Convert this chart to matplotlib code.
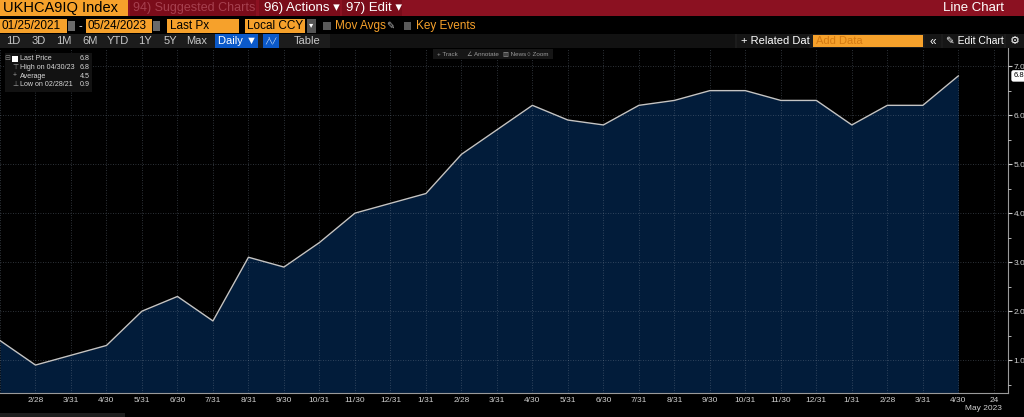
import numpy as np
import matplotlib
matplotlib.use("Agg")
import matplotlib.pyplot as plt
from matplotlib.patches import Rectangle

# month-end observations, UKHCA9IQ Index
dates = ["2021-01-31", "2021-02-28", "2021-03-31", "2021-04-30", "2021-05-31", "2021-06-30",
         "2021-07-31", "2021-08-31", "2021-09-30", "2021-10-31", "2021-11-30", "2021-12-31",
         "2022-01-31", "2022-02-28", "2022-03-31", "2022-04-30", "2022-05-31", "2022-06-30",
         "2022-07-31", "2022-08-31", "2022-09-30", "2022-10-31", "2022-11-30", "2022-12-31",
         "2023-01-31", "2023-02-28", "2023-03-31", "2023-04-30"]
values = [1.4, 0.9, 1.1, 1.3, 2.0, 2.3, 1.8, 3.1, 2.9, 3.4, 4.0, 4.2,
          4.4, 5.2, 5.7, 6.2, 5.9, 5.8, 6.2, 6.3, 6.5, 6.5, 6.3, 6.3,
          5.8, 6.2, 6.2, 6.8]
yticks = [1.0, 2.0, 3.0, 4.0, 5.0, 6.0, 7.0]
legend_rows = [("Last Price", "6.8"), ("High on 04/30/23", "6.8"),
               ("Average", "4.5"), ("Low on 02/28/21", "0.9")]
period_buttons = ["1D", "3D", "1M", "6M", "YTD", "1Y", "5Y", "Max"]

W, H = 1024, 417
RED = "#8b1121"
ORANGE = "#f6a12b"
NAVY = "#021c3a"
FONT = ["Liberation Sans", "DejaVu Sans"]
plt.rcParams["font.family"] = FONT

fig = plt.figure(figsize=(W / 100, H / 100), dpi=100, facecolor="black")


def box(x0, y0, x1, y1, color, z=1):
    fig.add_artist(Rectangle((x0 / W, 1 - y1 / H), (x1 - x0) / W, (y1 - y0) / H,
                             transform=fig.transFigure, facecolor=color,
                             edgecolor="none", zorder=z))


def txt(x, y, s, size=7, color="white", ha="left", z=5, **kw):
    fig.text(x / W, 1 - y / H, s, fontsize=size, color=color, ha=ha, va="center",
             zorder=z, family=FONT, **kw)


# ---- main chart ----
ax = fig.add_axes([0, 24 / H, 1008 / W, (393 - 48) / H])
ax.set_facecolor("black")
x = np.arange(len(values))
ax.fill_between(x, values, 0, color=NAVY, zorder=1, linewidth=0)
ax.plot(x, values, color="#c4c4c4", lw=1.0, zorder=4)

ax.set_xlim(0, len(values) + 0.4)
ax.set_ylim(0.33, 7.37)

xt = list(x[1:]) + [len(values)]
xl = [f"{int(d[5:7])}/{int(d[8:10])}" for d in dates[1:]] + ["24"]
ax.set_xticks(xt)
ax.set_xticklabels(xl)
ax.set_xticks(list(x), minor=True)
ax.set_yticks(yticks)
ax.set_yticklabels([f"{v:.1f}" for v in yticks])
ax.set_yticks(np.arange(0.5, 7.3, 0.5), minor=True)
ax.yaxis.tick_right()
ax.tick_params(axis="y", which="major", colors="#d0d0d0", labelsize=6, length=3,
               width=0.8, pad=1)
ax.tick_params(axis="y", which="minor", colors="#d0d0d0", length=2, width=0.6)
ax.tick_params(axis="x", which="both", colors="#d0d0d0", labelsize=6, length=0, pad=3)

for which, axis in [("minor", "x"), ("major", "x"), ("major", "y")]:
    ax.grid(True, axis=axis, which=which, color="#7a8696", alpha=0.5,
            ls=(0, (1, 2)), lw=0.6)
ax.set_axisbelow(False)
for s in ["top", "left"]:
    ax.spines[s].set_visible(False)
for s in ["bottom", "right"]:
    ax.spines[s].set_color("#9a9a9a")
    ax.spines[s].set_linewidth(0.8)

# last price tag
ax.annotate(f"{values[-1]:.1f}", xy=(1.0, values[-1]), xycoords=("axes fraction", "data"),
            xytext=(4, 0), textcoords="offset points", fontsize=5.5, color="black",
            va="center", ha="left", annotation_clip=False,
            bbox=dict(boxstyle="round,pad=0.2", fc="white", ec="white"))

txt(983, 408.5, "May 2023", size=6, color="#d0d0d0", ha="center")

# ---- top bar row 1 ----
box(0, 0, W, 16, RED)
box(0, 0, 128, 16, ORANGE, 2)
txt(3, 8, "UKHCA9IQ Index", size=10.5, color="black")
box(130, 0, 256, 16, "#7a0c1a", 2)
txt(133, 8, "94) Suggested Charts", size=9, color="#a6404f")
box(259, 0, 340, 16, "#7a0c1a", 2)
txt(264, 8, "96) Actions \u25be", size=9.5, color="white")
box(342, 0, 402, 16, "#7a0c1a", 2)
txt(346, 8, "97) Edit \u25be", size=9.5, color="white")
txt(1004, 8, "Line Chart", size=9.5, color="white", ha="right")

# ---- row 2 ----
box(0, 19, 67, 33, ORANGE, 2)
txt(2, 26, "01/25/2021", size=8.5, color="black")
box(68, 21, 75, 31, "#6a6a6a", 2)
txt(80, 26, "-", size=8, color="white", ha="center")
box(86, 19, 152, 33, ORANGE, 2)
txt(88, 26, "05/24/2023", size=8.5, color="black")
box(153, 21, 160, 31, "#6a6a6a", 2)
box(167, 19, 239, 33, ORANGE, 2)
txt(170, 26, "Last Px", size=8.5, color="black")
box(245, 19, 305, 33, ORANGE, 2)
txt(247, 26, "Local CCY", size=8.5, color="black")
box(307, 19, 316, 33, "#555555", 2)
txt(311.5, 26, "\u25be", size=6, color="white", ha="center")
box(323, 22, 331, 30, "#5a5a5a", 2)
txt(335, 26, "Mov Avgs", size=8.5, color=ORANGE)
txt(390, 26, "\u270e", size=7, color="#bbbbbb", ha="center")
box(404, 22, 411, 30, "#5a5a5a", 2)
txt(416, 26, "Key Events", size=8.5, color=ORANGE)

# ---- row 3 ----
box(0, 34, W, 48, "#1c1c1c")
centers = [13, 39, 64, 90, 118, 145, 170, 197]
for c, lab in zip(centers, period_buttons):
    txt(c, 41.5, lab, size=8, color="#c8c8c8", ha="center")
box(215, 34, 258, 48, "#0b59c9", 2)
txt(218, 41.5, "Daily \u25bc", size=8, color="white")
box(263, 34, 279, 48, "#0b59c9", 2)
txt(271, 41.5, "\u2571\u2572\u2571", size=4.5, color="white", ha="center")
txt(307, 41.5, "Table", size=8, color="#c8c8c8", ha="center")
box(330, 34, 735, 48, "#121212", 2)
box(737, 34, 809, 48, "#161616", 2)
txt(741, 41.5, "+ Related Dat", size=8, color="white")
box(813, 35, 923, 47, ORANGE, 2)
txt(816, 41.5, "Add Data", size=8, color="#d47a12")
box(925, 34, 941, 48, "#161616", 2)
txt(933, 41.5, "\u00ab", size=8.5, color="white", ha="center")
box(943, 34, 1004, 48, "#161616", 2)
txt(946, 41.5, "\u270e Edit Chart", size=7.5, color="white")
box(1006, 34, 1024, 48, "#161616", 2)
txt(1015, 41.5, "\u2699", size=8, color="white", ha="center")

# ---- toolbar in chart ----
box(433, 49, 553, 59, "#161616", 6)
for xx, lab in [(437, "+ Track"), (467, "\u2220 Annotate"), (503, "\u25a5 News"),
                (527, "\u25cb Zoom")]:
    txt(xx, 54, lab, size=4.5, color="#9a9a9a", z=7)

# ---- legend box ----
box(5, 53, 92, 92, "#121212", 6)
ys = [59, 67.5, 76, 84.5]
box(12, 56, 18, 62, "white", 7)
marks = ["", "\u22a4", "+", "\u22a5"]
for (lab, val), yy, mk in zip(legend_rows, ys, marks):
    txt(20, yy, lab, size=5.1, color="#d8d8d8", z=7)
    txt(90, yy, val, size=5.1, color="#d8d8d8", ha="right", z=7)
    if mk:
        txt(15, yy, mk, size=5, color="#9a9a9a", ha="center", z=7)
txt(7, 59, "\u229f", size=5, color="#8a8a8a", ha="center", z=7)

# bottom strip
box(0, 413, 125, 417, "#1e1e1e", 2)

fig.savefig("out.png", dpi=100, facecolor="black")
